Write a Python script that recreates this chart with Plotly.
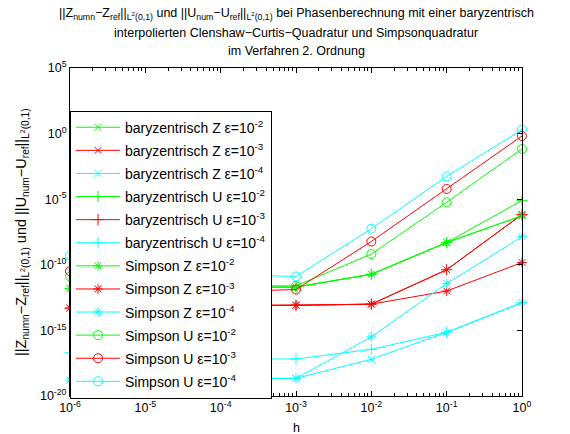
import plotly.graph_objects as go

# step sizes
h = [1e-6, 1e-5, 1e-4, 1e-3, 1e-2, 1e-1, 1.0]

# baryzentrisch Z / U  (eps = 1e-2, 1e-3, 1e-4)
bary_Z_e2 = [1.6e-12, 1.7e-12, 1.8e-12, 2.0e-12, 1.9e-11, 5.0e-9, 5.5e-7]
bary_Z_e3 = [5.0e-14, 7.1e-14, 7.9e-14, 8.3e-14, 1.0e-13, 4.2e-11, 6.9e-7]
bary_Z_e4 = [1.6e-19, 2.0e-19, 2.2e-19, 2.2e-19, 6.3e-18, 7.2e-16, 1.3e-13]
bary_U_e2 = [1.6e-12, 1.7e-12, 1.8e-12, 2.0e-12, 1.9e-11, 5.0e-9, 8.1e-6]
bary_U_e3 = [5.0e-14, 7.1e-14, 7.9e-14, 8.3e-14, 1.0e-13, 4.2e-11, 6.9e-7]
bary_U_e4 = [2.0e-17, 7.9e-18, 6.6e-18, 6.6e-18, 3.6e-17, 7.2e-16, 1.3e-13]
# Simpson Z / U
simp_Z_e2 = [1.6e-12, 1.7e-12, 1.8e-12, 2.0e-12, 1.9e-11, 5.0e-9, 5.5e-7]
simp_Z_e3 = [5.0e-14, 7.1e-14, 7.9e-14, 8.3e-14, 1.0e-13, 1.0e-12, 1.5e-10]
simp_Z_e4 = [1.6e-19, 2.0e-19, 2.2e-19, 2.2e-19, 3.2e-16, 3.7e-12, 1.4e-8]
simp_U_e2 = [1.3e-11, 3.2e-12, 2.5e-12, 2.5e-12, 6.6e-10, 5.8e-6, 6.8e-2]
simp_U_e3 = [3.2e-11, 1.3e-12, 8.9e-13, 1.3e-12, 6.0e-9, 6.0e-5, 0.66]
simp_U_e4 = [5.0e-10, 3.2e-11, 1.8e-11, 1.3e-11, 5.6e-8, 5.5e-4, 2.0]

names = [
    "baryzentrisch Z ε=10<sup>-2</sup>", "baryzentrisch Z ε=10<sup>-3</sup>", "baryzentrisch Z ε=10<sup>-4</sup>",
    "baryzentrisch U ε=10<sup>-2</sup>", "baryzentrisch U ε=10<sup>-3</sup>", "baryzentrisch U ε=10<sup>-4</sup>",
    "Simpson Z ε=10<sup>-2</sup>", "Simpson Z ε=10<sup>-3</sup>", "Simpson Z ε=10<sup>-4</sup>",
    "Simpson U ε=10<sup>-2</sup>", "Simpson U ε=10<sup>-3</sup>", "Simpson U ε=10<sup>-4</sup>",
]
series = [bary_Z_e2, bary_Z_e3, bary_Z_e4, bary_U_e2, bary_U_e3, bary_U_e4,
          simp_Z_e2, simp_Z_e3, simp_Z_e4, simp_U_e2, simp_U_e3, simp_U_e4]
colors = ["#00ff00", "#ff0000", "#00ffff"] * 4
symbols = ["x-thin-open"] * 3 + ["cross-thin-open"] * 3 + ["asterisk-open"] * 3 + ["circle-open"] * 3
sizes = [7] * 3 + [8] * 3 + [8] * 3 + [9] * 3

x_tickvals = [1e-6, 1e-5, 1e-4, 1e-3, 1e-2, 1e-1, 1.0]
x_ticktext = ["10<sup>-6</sup>", "10<sup>-5</sup>", "10<sup>-4</sup>", "10<sup>-3</sup>",
              "10<sup>-2</sup>", "10<sup>-1</sup>", "10<sup>0</sup>"]
y_tickvals = [1e-20, 1e-15, 1e-10, 1e-5, 1.0, 1e5]
y_ticktext = ["10<sup>-20</sup>", "10<sup>-15</sup>", "10<sup>-10</sup>", "10<sup>-5</sup>",
              "10<sup>0</sup>", "10<sup>5</sup>"]
x_minor = [m * d for d in [1e-6, 1e-5, 1e-4, 1e-3, 1e-2, 1e-1] for m in range(2, 10)]

FONT = "Liberation Sans, Arial, Helvetica, sans-serif"

fig = go.Figure()
for i, (name, ys, c, s, sz) in enumerate(zip(names, series, colors, symbols, sizes)):
    fig.add_trace(go.Scatter(
        x=h, y=ys, name=name, mode="lines+markers", legendgroup=f"g{i}",
        cliponaxis=False,
        line=dict(color=c, width=1),
        marker=dict(symbol=s, size=sz, color=c, line=dict(color=c, width=1)),
    ))

fig.update_layout(
    width=570, height=434,
    margin=dict(l=70, r=48, t=68, b=38, autoexpand=False),
    paper_bgcolor="white", plot_bgcolor="white",
    font=dict(family=FONT, size=12, color="black"),
    showlegend=True,
    legend=dict(
        x=0, y=0.87, xanchor="left", yanchor="top",
        bgcolor="white", bordercolor="black", borderwidth=1,
        font=dict(family=FONT, size=14, color="black"),
        tracegroupgap=1.9, itemwidth=44,
    ),
    xaxis=dict(
        type="log", range=[-6, 0], automargin=False,
        tickmode="array", tickvals=x_tickvals, ticktext=x_ticktext,
        ticks="inside", ticklen=5, tickcolor="black",
        showline=True, linecolor="black", linewidth=1, mirror="ticks",
        showgrid=False, zeroline=False,
        minor=dict(tickmode="array", tickvals=x_minor, ticks="inside", ticklen=3,
                   tickcolor="black", showgrid=False),
        tickfont=dict(size=12.5),
    ),
    yaxis=dict(
        type="log", range=[-20, 5], automargin=False,
        tickmode="array", tickvals=y_tickvals, ticktext=y_ticktext,
        ticks="inside", ticklen=5, tickcolor="black",
        showline=True, linecolor="black", linewidth=1, mirror="ticks",
        showgrid=False, zeroline=False,
        tickfont=dict(size=12.5),
    ),
    annotations=[
        dict(text="||Z<sub>numn</sub>−Z<sub>ref</sub>||<sub>L<sup>2</sup>(0,1)</sub> und "
                  "||U<sub>num</sub>−U<sub>ref</sub>||<sub>L<sup>2</sup>(0,1)</sub> "
                  "bei Phasenberechnung mit einer baryzentrisch",
             xref="paper", yref="paper", x=0.5, y=1, yshift=54, yanchor="middle",
             showarrow=False, font=dict(size=12.5)),
        dict(text="interpolierten Clenshaw−Curtis−Quadratur und Simpsonquadratur",
             xref="paper", yref="paper", x=0.5, y=1, yshift=35, yanchor="middle",
             showarrow=False, font=dict(size=12.5)),
        dict(text="im Verfahren 2. Ordnung",
             xref="paper", yref="paper", x=0.5, y=1, yshift=17, yanchor="middle",
             showarrow=False, font=dict(size=12.5)),
        dict(text="||Z<sub>numn</sub>−Z<sub>ref</sub>||<sub>L<sup>2</sup>(0,1)</sub> und "
                  "||U<sub>num</sub>−U<sub>ref</sub>||<sub>L<sup>2</sup>(0,1)</sub>",
             xref="paper", yref="paper", x=0, y=0.5, xshift=-48, xanchor="center",
             yanchor="middle", textangle=-90, showarrow=False, font=dict(size=14.5)),
        dict(text="h", xref="paper", yref="paper", x=0.5, y=0, yshift=-32,
             yanchor="middle", showarrow=False, font=dict(size=12.5)),
    ],
)

fig.write_html("out.html")
